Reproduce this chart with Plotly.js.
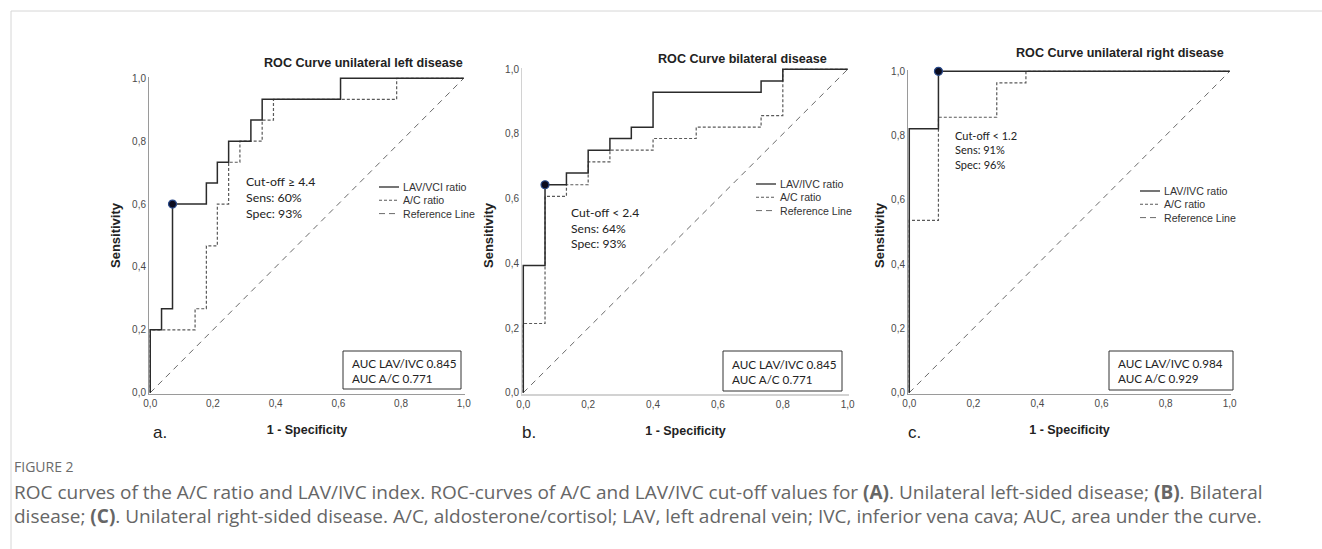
<!DOCTYPE html>
<html>
<head>
<meta charset="utf-8">
<script src="https://cdn.plot.ly/plotly-3.0.1.min.js"></script>
<style>
  html, body { margin: 0; padding: 0; background: #ffffff; }
  #chart { width: 1322px; height: 549px; }
</style>
</head>
<body>
<div id="chart"></div>
<script>
// ---------------- data ----------------
// Panel a: unilateral left disease
const aLavFpr = [0, 0, 0.036, 0.071, 0.179, 0.214, 0.250, 0.321, 0.357, 0.607, 1.0];
const aLavTpr = [0, 0.200, 0.267, 0.600, 0.667, 0.733, 0.800, 0.867, 0.933, 1.000, 1.000];
const aAcFpr  = [0, 0, 0.143, 0.179, 0.214, 0.250, 0.286, 0.357, 0.393, 0.786, 1.0];
const aAcTpr  = [0, 0.200, 0.267, 0.467, 0.600, 0.733, 0.800, 0.867, 0.933, 1.000, 1.000];
const aCutX = [0.071], aCutY = [0.600];

// Panel b: bilateral disease
const bLavFpr = [0, 0, 0.067, 0.133, 0.200, 0.267, 0.333, 0.400, 0.733, 0.800, 1.0];
const bLavTpr = [0, 0.393, 0.643, 0.679, 0.750, 0.786, 0.821, 0.929, 0.964, 1.000, 1.000];
const bAcFpr  = [0, 0, 0.067, 0.133, 0.200, 0.267, 0.400, 0.533, 0.733, 0.800, 1.0];
const bAcTpr  = [0, 0.214, 0.607, 0.643, 0.714, 0.750, 0.786, 0.821, 0.857, 1.000, 1.000];
const bCutX = [0.067], bCutY = [0.643];

// Panel c: unilateral right disease
const cLavFpr = [0, 0, 0.091, 1.0];
const cLavTpr = [0, 0.821, 1.000, 1.000];
const cAcFpr  = [0, 0, 0.091, 0.273, 0.364, 1.0];
const cAcTpr  = [0, 0.536, 0.857, 0.964, 1.000, 1.000];
const cCutX = [0.091], cCutY = [1.000];

const refX = [0, 1];
const refY = [0, 1];

const tickVals = [0, 0.2, 0.4, 0.6, 0.8, 1.0];

const panelTitles = ["ROC Curve unilateral left disease", "ROC Curve bilateral disease", "ROC Curve unilateral right disease"];
const legendLabels = [["LAV/VCI ratio", "A/C ratio", "Reference Line"],
                      ["LAV/IVC ratio", "A/C ratio", "Reference Line"],
                      ["LAV/IVC ratio", "A/C ratio", "Reference Line"]];
const cutoffTexts = [["Cut-off \u2265 4.4", "Sens: 60%", "Spec: 93%"],
                     ["Cut-off < 2.4", "Sens: 64%", "Spec: 93%"],
                     ["Cut-off < 1.2", "Sens: 91%", "Spec: 96%"]];
const aucTexts = [["AUC LAV/IVC 0.845", "AUC A/C 0.771"],
                  ["AUC LAV/IVC 0.845", "AUC A/C 0.771"],
                  ["AUC LAV/IVC 0.984", "AUC A/C 0.929"]];
const panelLetters = ["a.", "b.", "c."];
const xTitle = "1 - Specificity";
const yTitle = "Sensitivity";
const figLabel = "FIGURE 2";
const captionLines = [
  "ROC curves of the A/C ratio and LAV/IVC index. ROC-curves of A/C and LAV/IVC cut-off values for <b>(A)</b>. Unilateral left-sided disease; <b>(B)</b>. Bilateral",
  "disease; <b>(C)</b>. Unilateral right-sided disease. A/C, aldosterone/cortisol; LAV, left adrenal vein; IVC, inferior vena cava; AUC, area under the curve."
];

// ---------------- layout helpers ----------------
const W = 1322, H = 549;
const px = v => v / W;
const py = v => 1 - v / H;

// pixel boxes of the three plot areas
const boxes = [
  {x0: 149, x1: 465, yt: 77, yb: 394, axCol: "#9a9a9a", xw: 1, legX: 379, legY: 187, cutX: 244, cutY: 198, cutSize: 12.3,
   aucL: 343, aucR: 461, aucT: 351, aucB: 389, titleR: 465, titleY: 63, yTitleX: 116, letterX: 151},
  {x0: 522, x1: 849, yt: 68, yb: 394, axCol: "#d2d2d2", xw: 2, legX: 756, legY: 184, cutX: 569, cutY: 228, cutSize: 12.1,
   aucL: 723, aucR: 842, aucT: 351, aucB: 391, titleR: 829, titleY: 59, yTitleX: 489, letterX: 520},
  {x0: 908, x1: 1231, yt: 70, yb: 394, axCol: "#9a9a9a", xw: 1, legX: 1140, legY: 191, cutX: 953, cutY: 150, cutSize: 11,
   aucL: 1109, aucR: 1233, aucT: 351, aucB: 390, titleR: 1226, titleY: 53, yTitleX: 880, letterX: 906}
];

const series = [
  [aLavFpr, aLavTpr, aAcFpr, aAcTpr, aCutX, aCutY],
  [bLavFpr, bLavTpr, bAcFpr, bAcTpr, bCutX, bCutY],
  [cLavFpr, cLavTpr, cAcFpr, cAcTpr, cCutX, cCutY]
];

const SOLID = {color: "#2b2b2b", width: 1.5, shape: "hv"};
const DOTTED = {color: "#5a5a5a", width: 1.2, dash: "3px,2px", shape: "hv"};
const REF = {color: "#6a6a6a", width: 1, dash: "6px,5px"};

const traces = [];
const layout = {
  width: W, height: H,
  margin: {l: 0, r: 0, t: 0, b: 0},
  paper_bgcolor: "#ffffff",
  plot_bgcolor: "rgba(0,0,0,0)",
  separators: ",.",
  showlegend: false,
  font: {family: "Liberation Sans, Arial, sans-serif", color: "#333"},
  annotations: [],
  shapes: []
};

boxes.forEach((b, i) => {
  const sfx = i === 0 ? "" : String(i + 1);
  const xa = "x" + sfx, ya = "y" + sfx;
  const [lf, lt, af, at, cx, cy] = series[i];

  traces.push({x: refX, y: refY, xaxis: xa, yaxis: ya, mode: "lines", line: REF, name: "Reference Line", hoverinfo: "skip"});
  traces.push({x: af, y: at, xaxis: xa, yaxis: ya, mode: "lines", line: DOTTED, name: "A/C ratio"});
  traces.push({x: lf, y: lt, xaxis: xa, yaxis: ya, mode: "lines", line: SOLID, name: legendLabels[i][0]});
  traces.push({x: cx, y: cy, xaxis: xa, yaxis: ya, mode: "markers", cliponaxis: false,
               marker: {size: 8, color: "#0b0b1e", line: {color: "#2a4a8a", width: 1.2}}, name: "Cut-off"});

  const axCommon = {
    range: [-0.004, 1.004], showgrid: false, zeroline: false, showline: true,
    tickvals: tickVals, tickformat: ".1f", ticks: "", fixedrange: true,
    tickfont: {size: 10, color: "#4a4a4a", family: "Liberation Sans, Arial, sans-serif"}
  };
  layout["xaxis" + sfx] = Object.assign({}, axCommon, {
    domain: [px(b.x0), px(b.x1)], anchor: ya, linecolor: b.axCol, linewidth: b.xw,
    title: {text: "<b>" + xTitle + "</b>", font: {size: 12.5, color: "#222"}, standoff: 17}
  });
  layout["yaxis" + sfx] = Object.assign({}, axCommon, {
    domain: [py(b.yb), py(b.yt)], anchor: xa, linecolor: b.axCol, linewidth: 1
  });

  // y title as rotated annotation (precise placement)
  layout.annotations.push({xref: "paper", yref: "paper", x: px(b.yTitleX), y: py(235),
    text: "<b>" + yTitle + "</b>", textangle: -90, showarrow: false, xanchor: "center", yanchor: "middle",
    font: {size: 13, color: "#222"}});

  // panel title
  layout.annotations.push({xref: "paper", yref: "paper", x: px(b.titleR), y: py(b.titleY),
    text: "<b>" + panelTitles[i] + "</b>", showarrow: false, xanchor: "right", yanchor: "middle",
    font: {size: 12.6, color: "#222"}});

  // panel letter
  layout.annotations.push({xref: "paper", yref: "paper", x: px(b.letterX), y: py(432),
    text: panelLetters[i], showarrow: false, xanchor: "left", yanchor: "middle",
    font: {size: 17, color: "#222", family: "Liberation Sans, Arial, sans-serif"}});

  // cut-off text
  layout.annotations.push({xref: "paper", yref: "paper", x: px(b.cutX), y: py(b.cutY),
    text: cutoffTexts[i].join("<br>"), showarrow: false, xanchor: "left", yanchor: "middle", align: "left",
    font: {size: b.cutSize, color: "#222", family: "Lato, Carlito, sans-serif"}});

  // AUC box
  layout.shapes.push({type: "rect", xref: "paper", yref: "paper",
    x0: px(b.aucL), x1: px(b.aucR), y0: py(b.aucB), y1: py(b.aucT),
    line: {color: "#333", width: 1}, fillcolor: "rgba(255,255,255,0)"});
  layout.annotations.push({xref: "paper", yref: "paper", x: px(b.aucL + 7), y: py((b.aucT + b.aucB) / 2),
    text: aucTexts[i].join("<br>"), showarrow: false, xanchor: "left", yanchor: "middle", align: "left",
    font: {size: 11.7, color: "#222", family: "Lato, Carlito, sans-serif"}});

  // custom legend
  const styles = [{color: "#2b2b2b", width: 1.3}, {color: "#5a5a5a", width: 1.1, dash: "3px,2px"}, {color: "#6a6a6a", width: 1, dash: "6px,4px"}];
  for (let k = 0; k < 3; k++) {
    const yy = b.legY + k * 13.3;
    layout.shapes.push({type: "line", xref: "paper", yref: "paper",
      x0: px(b.legX), x1: px(b.legX + 20), y0: py(yy), y1: py(yy), line: styles[k]});
    layout.annotations.push({xref: "paper", yref: "paper", x: px(b.legX + 22), y: py(yy),
      text: legendLabels[i][k], showarrow: false, xanchor: "left", yanchor: "middle",
      font: {size: 10.6, color: "#333"}});
  }
});

// figure frame (top and left border lines)
layout.shapes.push({type: "line", xref: "paper", yref: "paper", x0: px(11), x1: 1, y0: py(11), y1: py(11), line: {color: "#d6d6d6", width: 1}});
layout.shapes.push({type: "line", xref: "paper", yref: "paper", x0: px(11), x1: px(11), y0: py(11), y1: 0, line: {color: "#d6d6d6", width: 1}});

// caption
layout.annotations.push({xref: "paper", yref: "paper", x: px(12), y: py(466), text: figLabel, showarrow: false,
  xanchor: "left", yanchor: "middle", font: {size: 14, color: "#6b6b6b", family: "Open Sans, sans-serif"}});
captionLines.forEach((t, k) => {
  layout.annotations.push({xref: "paper", yref: "paper", x: px(12), y: py(492 + k * 23.5), text: t, showarrow: false,
    xanchor: "left", yanchor: "middle", font: {size: 19, color: "#666666", family: "Open Sans, sans-serif"}});
});

Plotly.newPlot("chart", traces, layout, {displayModeBar: false, staticPlot: true});
</script>
</body>
</html>
